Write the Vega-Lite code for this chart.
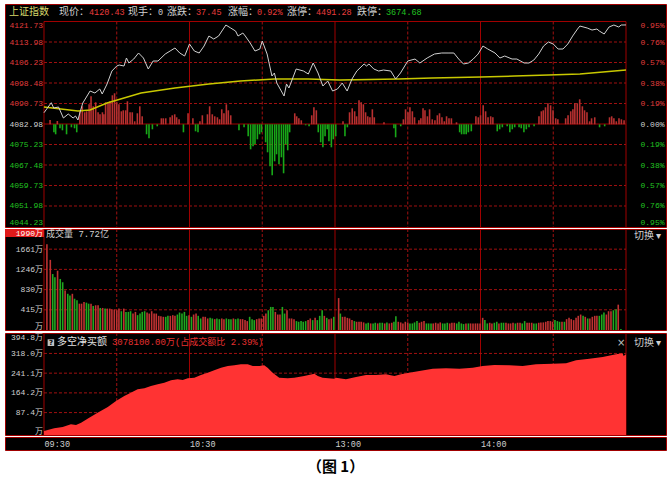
{
  "$schema": "https://vega.github.io/schema/vega-lite/v6.json",
  "background": "white",
  "padding": {"left": 4, "top": 3, "right": 5, "bottom": 0},
  "spacing": 0,
  "config": {
    "view": {"fill": "#000000", "stroke": "#a00000", "strokeWidth": 1},
    "concat": {"spacing": 0}
  },
  "title": {"text": "（图 1）", "orient": "bottom", "anchor": "middle", "offset": 9, "fontSize": 15, "font": "Noto Sans CJK SC", "fontWeight": "bold", "color": "#000000"},
  "datasets": {
    "quote": [{"name": "上证指数", "price": 4120.43, "hand": 0, "change": 37.45, "pct": 0.0092, "upLimit": 4491.28, "downLimit": 3674.68}],
    "price": [
      {"t":0,"p":4087.25},{"t":3,"p":4091.03},{"t":4,"p":4089.03},{"t":6,"p":4089.41},{"t":8,"p":4085.25},{"t":10,"p":4086.76},{"t":12,"p":4085.25},{"t":13,"p":4086.0},{"t":14,"p":4084.49},{"t":15,"p":4087.89},{"t":16,"p":4090.92},{"t":19,"p":4095.45},{"t":21,"p":4094.7},{"t":23,"p":4096.21},{"t":24,"p":4094.32},{"t":26,"p":4098.1},{"t":28,"p":4103.01},{"t":30,"p":4104.9},{"t":31,"p":4105.28},{"t":33,"p":4104.9},{"t":34,"p":4107.93},{"t":35,"p":4106.04},{"t":37,"p":4107.55},{"t":39,"p":4109.82},{"t":41,"p":4107.93},{"t":43,"p":4103.77},{"t":45,"p":4106.79},{"t":47,"p":4106.79},{"t":50,"p":4109.44},{"t":52,"p":4110.57},{"t":54,"p":4111.71},{"t":56,"p":4109.82},{"t":58,"p":4108.68},{"t":60,"p":4113.22},{"t":62,"p":4110.57},{"t":64,"p":4109.82},{"t":66,"p":4112.46},{"t":68,"p":4116.24},{"t":70,"p":4115.11},{"t":72,"p":4116.24},{"t":75,"p":4120.4},{"t":77,"p":4119.27},{"t":79,"p":4118.13},{"t":80,"p":4116.24},{"t":82,"p":4117.38},{"t":83,"p":4116.24},{"t":85,"p":4113.6},{"t":87,"p":4110.57},{"t":89,"p":4111.33},{"t":90,"p":4114.35},{"t":92,"p":4109.44},{"t":94,"p":4101.12},{"t":95,"p":4102.26},{"t":96,"p":4098.48},{"t":99,"p":4093.56},{"t":100,"p":4098.1},{"t":101,"p":4096.59},{"t":104,"p":4103.77},{"t":107,"p":4103.01},{"t":109,"p":4101.88},{"t":111,"p":4106.04},{"t":113,"p":4102.26},{"t":115,"p":4097.34},{"t":117,"p":4099.23},{"t":119,"p":4095.45},{"t":121,"p":4096.21},{"t":123,"p":4098.48},{"t":125,"p":4095.45},{"t":127,"p":4099.99},{"t":129,"p":4103.01},{"t":132,"p":4105.66},{"t":133,"p":4104.9},{"t":134,"p":4105.66},{"t":136,"p":4103.77},{"t":138,"p":4103.01},{"t":140,"p":4103.39},{"t":143,"p":4103.01},{"t":145,"p":4099.99},{"t":147,"p":4102.26},{"t":150,"p":4106.79},{"t":153,"p":4107.55},{"t":155,"p":4106.04},{"t":158,"p":4107.93},{"t":161,"p":4109.44},{"t":164,"p":4109.82},{"t":167,"p":4109.82},{"t":169,"p":4109.82},{"t":171,"p":4107.55},{"t":173,"p":4105.66},{"t":175,"p":4106.04},{"t":177,"p":4107.55},{"t":179,"p":4109.44},{"t":181,"p":4112.46},{"t":183,"p":4111.33},{"t":186,"p":4109.82},{"t":188,"p":4107.93},{"t":190,"p":4108.68},{"t":193,"p":4107.55},{"t":195,"p":4107.55},{"t":198,"p":4106.04},{"t":200,"p":4106.04},{"t":202,"p":4107.17},{"t":204,"p":4109.44},{"t":206,"p":4112.46},{"t":208,"p":4113.98},{"t":210,"p":4113.22},{"t":212,"p":4111.33},{"t":214,"p":4111.33},{"t":216,"p":4113.22},{"t":218,"p":4116.24},{"t":220,"p":4118.89},{"t":221,"p":4120.02},{"t":224,"p":4119.27},{"t":226,"p":4118.51},{"t":228,"p":4118.89},{"t":229,"p":4118.13},{"t":231,"p":4117.0},{"t":233,"p":4119.65},{"t":235,"p":4120.4},{"t":237,"p":4119.65},{"t":238,"p":4120.4},{"t":240,"p":4120.43}
    ],
    "avg": [
      {"t":0,"a":4089.41},{"t":7,"a":4088.65},{"t":14,"a":4087.89},{"t":19,"a":4088.27},{"t":26,"a":4090.92},{"t":40,"a":4094.7},{"t":54,"a":4096.59},{"t":68,"a":4098.1},{"t":81,"a":4099.23},{"t":95,"a":4099.99},{"t":109,"a":4099.99},{"t":122,"a":4099.61},{"t":146,"a":4099.99},{"t":160,"a":4100.37},{"t":180,"a":4100.75},{"t":194,"a":4101.12},{"t":208,"a":4101.5},{"t":221,"a":4101.88},{"t":240,"a":4103.39}
    ],
    "strength": [
      {"t":2.5,"s":4.3},{"t":4.1,"s":-8},{"t":4.8,"s":-10},{"t":5.5,"s":3.3},{"t":6.6,"s":-4},{"t":7.6,"s":-6},{"t":9.3,"s":-10},{"t":11.3,"s":-3},{"t":12.6,"s":-4},{"t":13.5,"s":-8},{"t":14.8,"s":13},{"t":15.8,"s":18},{"t":16.8,"s":12},{"t":17.6,"s":13},{"t":18.6,"s":20},{"t":19.4,"s":28},{"t":20.3,"s":18},{"t":21.3,"s":22},{"t":22.3,"s":12},{"t":23.1,"s":10},{"t":24.1,"s":12},{"t":24.7,"s":10},{"t":25.4,"s":22},{"t":26.4,"s":22},{"t":27.2,"s":23},{"t":28.2,"s":29},{"t":29.1,"s":31},{"t":30,"s":22},{"t":30.9,"s":20},{"t":31.9,"s":13},{"t":32.7,"s":14},{"t":33.7,"s":14},{"t":34.4,"s":23},{"t":35.5,"s":12},{"t":36.4,"s":12},{"t":37.4,"s":3},{"t":38.5,"s":11},{"t":39.5,"s":18},{"t":40.5,"s":8},{"t":42.3,"s":-10},{"t":43.3,"s":-14},{"t":44.7,"s":-5},{"t":46.7,"s":-2},{"t":48.4,"s":6},{"t":49.2,"s":6},{"t":50.2,"s":6},{"t":52,"s":7},{"t":52.9,"s":9},{"t":53.9,"s":10},{"t":54.7,"s":7},{"t":55.7,"s":5},{"t":57.5,"s":-8},{"t":59.4,"s":11},{"t":61.4,"s":6},{"t":62.5,"s":-7},{"t":63.5,"s":-8},{"t":64.3,"s":3},{"t":65.3,"s":9},{"t":67.4,"s":10},{"t":68.3,"s":18},{"t":69.4,"s":10},{"t":70.4,"s":8},{"t":71.5,"s":7},{"t":72.4,"s":5},{"t":73.3,"s":15},{"t":74.2,"s":11},{"t":75.2,"s":20},{"t":76,"s":14},{"t":77,"s":9},{"t":80.4,"s":-6},{"t":82.5,"s":-3},{"t":84.2,"s":-12},{"t":85.2,"s":-25},{"t":86.2,"s":-22},{"t":87,"s":-20},{"t":88,"s":-15},{"t":88.9,"s":-10},{"t":89.7,"s":-8},{"t":91.4,"s":-18},{"t":92.2,"s":-28},{"t":93.2,"s":-42},{"t":94.1,"s":-51},{"t":95.1,"s":-37},{"t":95.9,"s":-30},{"t":96.9,"s":-40},{"t":97.9,"s":-33},{"t":98.8,"s":-49},{"t":99.7,"s":-20},{"t":100.5,"s":-26},{"t":101.3,"s":-8},{"t":103.4,"s":11},{"t":104.2,"s":8},{"t":105.1,"s":6},{"t":106.1,"s":4},{"t":107.9,"s":-1},{"t":109.3,"s":-2},{"t":110.4,"s":9},{"t":111.3,"s":17},{"t":112.3,"s":14},{"t":113.1,"s":-8},{"t":114.1,"s":-18},{"t":115,"s":-23},{"t":115.9,"s":-12},{"t":116.8,"s":-5},{"t":117.5,"s":-17},{"t":118.5,"s":-23},{"t":119.3,"s":-15},{"t":120.3,"s":-12},{"t":123.3,"s":3},{"t":124.1,"s":-12},{"t":125.1,"s":-3},{"t":126,"s":12},{"t":127.1,"s":16},{"t":128.1,"s":13},{"t":128.9,"s":8},{"t":129.9,"s":24},{"t":130.8,"s":22},{"t":131.7,"s":20},{"t":132.6,"s":12},{"t":133.5,"s":8},{"t":134.4,"s":7},{"t":135.4,"s":15},{"t":136.2,"s":7},{"t":140.2,"s":2},{"t":144.3,"s":-4},{"t":145,"s":-13},{"t":147.1,"s":-2},{"t":148.2,"s":5},{"t":149.1,"s":15},{"t":150.1,"s":12},{"t":150.9,"s":17},{"t":151.9,"s":13},{"t":152.8,"s":7},{"t":154.6,"s":4},{"t":155.4,"s":6},{"t":156.3,"s":16},{"t":157.1,"s":14},{"t":158.1,"s":8},{"t":159,"s":15},{"t":160.1,"s":5},{"t":161.2,"s":4},{"t":162.2,"s":9},{"t":163.1,"s":11},{"t":164.1,"s":7},{"t":165.1,"s":3},{"t":166,"s":8},{"t":167,"s":6},{"t":168,"s":6},{"t":170.1,"s":2},{"t":171.4,"s":-8},{"t":172.2,"s":-10},{"t":173.2,"s":-10},{"t":174.1,"s":-10},{"t":175,"s":-8},{"t":176.2,"s":-7},{"t":178.1,"s":8},{"t":179.1,"s":7},{"t":180,"s":9},{"t":181.1,"s":19},{"t":182.1,"s":13},{"t":183.1,"s":7},{"t":184.2,"s":8},{"t":185.1,"s":7},{"t":186.9,"s":-7},{"t":187.9,"s":-5},{"t":189,"s":-3},{"t":191,"s":-2},{"t":192.1,"s":-8},{"t":193.1,"s":-5},{"t":194.1,"s":-3},{"t":195.9,"s":-3},{"t":196.8,"s":-4},{"t":197.9,"s":-8},{"t":198.9,"s":-5},{"t":200,"s":-3},{"t":202.1,"s":-2},{"t":204.1,"s":8},{"t":205.1,"s":13},{"t":205.9,"s":14},{"t":206.8,"s":17},{"t":207.8,"s":21},{"t":208.9,"s":19},{"t":209.9,"s":14},{"t":211,"s":6},{"t":211.9,"s":5},{"t":215.1,"s":6},{"t":216.1,"s":9},{"t":217.2,"s":13},{"t":218.1,"s":15},{"t":218.9,"s":21},{"t":219.9,"s":21},{"t":220.9,"s":25},{"t":222,"s":18},{"t":222.9,"s":14},{"t":223.9,"s":12},{"t":225,"s":3},{"t":225.8,"s":6},{"t":227.1,"s":7},{"t":229.1,"s":-3},{"t":231.2,"s":-2},{"t":233.2,"s":7},{"t":234.1,"s":8},{"t":235,"s":6},{"t":236,"s":3},{"t":237.1,"s":6},{"t":238.1,"s":5},{"t":239.2,"s":4}
    ],
    "volume": [
      {"t":1.2,"v":1760,"d":"up"},{"t":2.6,"v":1441,"d":"up"},{"t":3.6,"v":1150,"d":"down"},{"t":4.5,"v":1083,"d":"down"},{"t":5.6,"v":1218,"d":"up"},{"t":6.7,"v":1049,"d":"down"},{"t":7.7,"v":981,"d":"down"},{"t":8.7,"v":812,"d":"up"},{"t":9.8,"v":744,"d":"down"},{"t":10.7,"v":710,"d":"down"},{"t":11.7,"v":744,"d":"up"},{"t":12.6,"v":643,"d":"down"},{"t":13.6,"v":609,"d":"down"},{"t":14.6,"v":541,"d":"up"},{"t":15.5,"v":541,"d":"up"},{"t":16.5,"v":575,"d":"up"},{"t":17.5,"v":562,"d":"down"},{"t":18.4,"v":541,"d":"down"},{"t":19.4,"v":541,"d":"up"},{"t":20.3,"v":494,"d":"down"},{"t":21.3,"v":508,"d":"up"},{"t":22.3,"v":508,"d":"up"},{"t":23.2,"v":453,"d":"down"},{"t":24.2,"v":453,"d":"up"},{"t":25.2,"v":440,"d":"down"},{"t":26.1,"v":440,"d":"up"},{"t":27.1,"v":440,"d":"up"},{"t":28,"v":426,"d":"up"},{"t":29,"v":420,"d":"up"},{"t":30,"v":406,"d":"up"},{"t":30.9,"v":440,"d":"up"},{"t":31.9,"v":386,"d":"down"},{"t":32.9,"v":440,"d":"up"},{"t":33.8,"v":372,"d":"down"},{"t":34.8,"v":372,"d":"down"},{"t":35.7,"v":386,"d":"down"},{"t":36.7,"v":338,"d":"up"},{"t":37.7,"v":372,"d":"up"},{"t":38.6,"v":305,"d":"down"},{"t":39.6,"v":338,"d":"down"},{"t":40.5,"v":372,"d":"down"},{"t":41.5,"v":386,"d":"down"},{"t":42.5,"v":359,"d":"up"},{"t":43.4,"v":338,"d":"up"},{"t":44.4,"v":386,"d":"up"},{"t":45.4,"v":338,"d":"up"},{"t":46.3,"v":338,"d":"up"},{"t":47.3,"v":291,"d":"up"},{"t":48.2,"v":284,"d":"up"},{"t":49.2,"v":271,"d":"up"},{"t":50.2,"v":271,"d":"down"},{"t":51.1,"v":291,"d":"down"},{"t":52.1,"v":291,"d":"up"},{"t":53.1,"v":305,"d":"up"},{"t":54,"v":291,"d":"up"},{"t":55,"v":318,"d":"down"},{"t":55.9,"v":359,"d":"down"},{"t":56.9,"v":338,"d":"down"},{"t":57.9,"v":372,"d":"down"},{"t":58.8,"v":291,"d":"down"},{"t":59.8,"v":305,"d":"up"},{"t":60.8,"v":271,"d":"down"},{"t":61.7,"v":318,"d":"up"},{"t":62.7,"v":338,"d":"up"},{"t":63.6,"v":291,"d":"down"},{"t":64.6,"v":237,"d":"down"},{"t":65.6,"v":271,"d":"up"},{"t":66.5,"v":271,"d":"up"},{"t":67.5,"v":237,"d":"up"},{"t":68.5,"v":250,"d":"down"},{"t":69.4,"v":237,"d":"down"},{"t":70.4,"v":223,"d":"up"},{"t":71.3,"v":237,"d":"down"},{"t":72.3,"v":223,"d":"down"},{"t":73.3,"v":237,"d":"up"},{"t":74.2,"v":223,"d":"up"},{"t":75.2,"v":237,"d":"down"},{"t":76.2,"v":223,"d":"down"},{"t":77.1,"v":223,"d":"down"},{"t":78.1,"v":237,"d":"up"},{"t":79,"v":223,"d":"down"},{"t":80,"v":237,"d":"down"},{"t":81,"v":223,"d":"up"},{"t":81.9,"v":223,"d":"up"},{"t":82.9,"v":203,"d":"up"},{"t":83.8,"v":183,"d":"up"},{"t":84.8,"v":271,"d":"down"},{"t":85.8,"v":223,"d":"down"},{"t":86.7,"v":203,"d":"down"},{"t":87.7,"v":223,"d":"up"},{"t":88.7,"v":237,"d":"up"},{"t":89.6,"v":237,"d":"up"},{"t":90.6,"v":291,"d":"up"},{"t":91.5,"v":338,"d":"up"},{"t":92.5,"v":406,"d":"down"},{"t":93.5,"v":474,"d":"down"},{"t":94.4,"v":474,"d":"down"},{"t":95.4,"v":372,"d":"up"},{"t":96.4,"v":318,"d":"up"},{"t":97.3,"v":318,"d":"up"},{"t":98.3,"v":474,"d":"down"},{"t":99.2,"v":338,"d":"down"},{"t":100.2,"v":406,"d":"up"},{"t":101.2,"v":237,"d":"up"},{"t":102.1,"v":237,"d":"up"},{"t":103.1,"v":223,"d":"up"},{"t":104.1,"v":183,"d":"down"},{"t":105,"v":169,"d":"down"},{"t":106,"v":183,"d":"down"},{"t":106.9,"v":169,"d":"down"},{"t":107.9,"v":183,"d":"down"},{"t":108.9,"v":203,"d":"up"},{"t":109.8,"v":237,"d":"up"},{"t":110.8,"v":203,"d":"down"},{"t":111.8,"v":250,"d":"up"},{"t":112.7,"v":203,"d":"down"},{"t":113.7,"v":291,"d":"down"},{"t":114.7,"v":406,"d":"down"},{"t":115.6,"v":291,"d":"up"},{"t":116.6,"v":250,"d":"down"},{"t":117.5,"v":223,"d":"up"},{"t":118.5,"v":237,"d":"up"},{"t":119.5,"v":271,"d":"down"},
      {"t":121.5,"v":656,"d":"up"},{"t":122.2,"v":338,"d":"down"},{"t":123.1,"v":271,"d":"up"},{"t":124.1,"v":271,"d":"up"},{"t":125.1,"v":250,"d":"up"},{"t":126,"v":237,"d":"up"},{"t":127,"v":203,"d":"up"},{"t":128,"v":183,"d":"down"},{"t":128.9,"v":169,"d":"up"},{"t":129.9,"v":169,"d":"up"},{"t":130.8,"v":169,"d":"up"},{"t":131.8,"v":156,"d":"up"},{"t":132.8,"v":135,"d":"down"},{"t":133.7,"v":149,"d":"down"},{"t":134.7,"v":135,"d":"up"},{"t":135.7,"v":135,"d":"down"},{"t":136.6,"v":149,"d":"down"},{"t":137.6,"v":135,"d":"up"},{"t":138.5,"v":149,"d":"down"},{"t":139.5,"v":149,"d":"down"},{"t":140.5,"v":135,"d":"up"},{"t":141.4,"v":156,"d":"down"},{"t":142.4,"v":135,"d":"up"},{"t":143.4,"v":149,"d":"up"},{"t":144.3,"v":169,"d":"down"},{"t":145.1,"v":284,"d":"down"},{"t":146.1,"v":169,"d":"up"},{"t":147.1,"v":156,"d":"up"},{"t":148,"v":135,"d":"up"},{"t":149,"v":169,"d":"up"},{"t":150,"v":156,"d":"up"},{"t":150.9,"v":135,"d":"down"},{"t":151.9,"v":135,"d":"down"},{"t":152.8,"v":156,"d":"down"},{"t":153.8,"v":183,"d":"down"},{"t":154.8,"v":149,"d":"up"},{"t":155.7,"v":169,"d":"up"},{"t":156.7,"v":183,"d":"up"},{"t":157.7,"v":135,"d":"down"},{"t":158.6,"v":135,"d":"down"},{"t":159.6,"v":135,"d":"down"},{"t":160.5,"v":135,"d":"up"},{"t":161.5,"v":149,"d":"up"},{"t":162.5,"v":135,"d":"up"},{"t":163.4,"v":156,"d":"up"},{"t":164.4,"v":135,"d":"down"},{"t":165.3,"v":135,"d":"down"},{"t":166.3,"v":149,"d":"down"},{"t":167.3,"v":135,"d":"up"},{"t":168.2,"v":149,"d":"up"},{"t":169.2,"v":149,"d":"up"},{"t":170.2,"v":135,"d":"down"},{"t":171.1,"v":169,"d":"down"},{"t":172.1,"v":135,"d":"down"},{"t":173,"v":122,"d":"down"},{"t":174,"v":135,"d":"up"},{"t":175,"v":135,"d":"down"},{"t":175.9,"v":135,"d":"up"},{"t":176.9,"v":135,"d":"up"},{"t":177.9,"v":135,"d":"up"},{"t":178.8,"v":135,"d":"up"},{"t":179.8,"v":135,"d":"up"},{"t":180.9,"v":250,"d":"up"},{"t":181.8,"v":203,"d":"down"},{"t":182.8,"v":135,"d":"down"},{"t":183.8,"v":149,"d":"up"},{"t":184.7,"v":135,"d":"up"},{"t":185.7,"v":149,"d":"down"},{"t":186.7,"v":169,"d":"down"},{"t":187.6,"v":135,"d":"up"},{"t":188.6,"v":149,"d":"down"},{"t":189.5,"v":149,"d":"down"},{"t":190.5,"v":149,"d":"up"},{"t":191.5,"v":135,"d":"up"},{"t":192.4,"v":135,"d":"up"},{"t":193.4,"v":149,"d":"up"},{"t":194.4,"v":135,"d":"down"},{"t":195.3,"v":149,"d":"up"},{"t":196.3,"v":149,"d":"up"},{"t":197.2,"v":135,"d":"down"},{"t":198.2,"v":183,"d":"down"},{"t":199.2,"v":149,"d":"up"},{"t":200.1,"v":149,"d":"up"},{"t":201.1,"v":149,"d":"up"},{"t":202,"v":135,"d":"down"},{"t":203,"v":135,"d":"down"},{"t":204,"v":149,"d":"up"},{"t":204.9,"v":156,"d":"up"},{"t":205.9,"v":156,"d":"up"},{"t":206.9,"v":169,"d":"up"},{"t":207.8,"v":183,"d":"up"},{"t":208.8,"v":183,"d":"up"},{"t":209.7,"v":169,"d":"up"},{"t":210.7,"v":203,"d":"down"},{"t":211.7,"v":183,"d":"down"},{"t":212.6,"v":169,"d":"down"},{"t":213.6,"v":169,"d":"up"},{"t":214.6,"v":169,"d":"down"},{"t":215.5,"v":223,"d":"up"},{"t":216.5,"v":250,"d":"up"},{"t":217.4,"v":223,"d":"up"},{"t":218.4,"v":203,"d":"up"},{"t":219.4,"v":250,"d":"up"},{"t":220.3,"v":291,"d":"up"},{"t":221.3,"v":318,"d":"up"},{"t":222.3,"v":291,"d":"down"},{"t":223.2,"v":271,"d":"up"},{"t":224.2,"v":237,"d":"down"},{"t":225.1,"v":237,"d":"up"},{"t":226.1,"v":271,"d":"up"},{"t":227.1,"v":291,"d":"up"},{"t":228,"v":291,"d":"up"},{"t":229,"v":291,"d":"down"},{"t":230,"v":318,"d":"down"},{"t":230.9,"v":359,"d":"down"},{"t":231.9,"v":318,"d":"up"},{"t":232.8,"v":386,"d":"up"},{"t":233.8,"v":386,"d":"up"},{"t":234.8,"v":406,"d":"down"},{"t":235.9,"v":426,"d":"down"},{"t":236.8,"v":521,"d":"up"},{"t":237.9,"v":20,"d":"down"}
    ],
    "netbuy": [
      {"t":0,"n":15.6},{"t":4.2,"n":26.1},{"t":7.7,"n":31.2},{"t":11.1,"n":41.7},{"t":13.2,"n":39.0},{"t":15.3,"n":48.0},{"t":18.3,"n":65.1},{"t":22.1,"n":86.9},{"t":26.3,"n":109.2},{"t":29.7,"n":132.6},{"t":33.1,"n":152.1},{"t":36.6,"n":168.8},{"t":38.6,"n":178.2},{"t":41.4,"n":182.1},{"t":44.1,"n":191.1},{"t":46.9,"n":197.7},{"t":49.6,"n":203.9},{"t":52.4,"n":213.3},{"t":55.1,"n":217.2},{"t":57.2,"n":214.4},{"t":59.3,"n":221.1},{"t":62,"n":223.4},{"t":64.7,"n":233.9},{"t":67.5,"n":242.9},{"t":70.2,"n":252.3},{"t":73,"n":262.4},{"t":75.8,"n":269.0},{"t":78.5,"n":271.8},{"t":81.2,"n":275.7},{"t":84,"n":275.7},{"t":86.1,"n":269.0},{"t":88.8,"n":269.0},{"t":90.8,"n":271.8},{"t":92.2,"n":262.4},{"t":94.3,"n":242.9},{"t":97,"n":223.4},{"t":100.5,"n":221.1},{"t":103.2,"n":223.4},{"t":107.3,"n":230.0},{"t":111.5,"n":239.0},{"t":112.9,"n":230.0},{"t":114.9,"n":223.4},{"t":119.7,"n":219.5},{"t":120.4,"n":223.4},{"t":124.5,"n":217.2},{"t":128.7,"n":226.1},{"t":132.8,"n":233.9},{"t":136.9,"n":233.9},{"t":141,"n":236.7},{"t":144.5,"n":230.0},{"t":147.2,"n":236.7},{"t":150.6,"n":242.9},{"t":154.8,"n":249.5},{"t":160.3,"n":258.5},{"t":165.8,"n":260.1},{"t":171.3,"n":258.5},{"t":176.8,"n":262.4},{"t":180.9,"n":269.0},{"t":185.7,"n":272.9},{"t":191.9,"n":271.8},{"t":197.4,"n":269.0},{"t":202.9,"n":275.7},{"t":209.8,"n":278.0},{"t":215.3,"n":279.6},{"t":219.4,"n":291.3},{"t":224.9,"n":297.5},{"t":230.4,"n":304.1},{"t":235.9,"n":314.6},{"t":238.6,"n":318.5},{"t":239,"n":308.0},{"t":240,"n":314.6}
    ]
  },
  "vconcat": [
    {
      "width": 661,
      "height": 223,
      "layer": [
        {
          "layer": [
            {
              "data": {"values": [{"g":4113.98},{"g":4106.23},{"g":4098.48},{"g":4090.73},{"g":4075.23},{"g":4067.48},{"g":4059.73},{"g":4051.98}]},
              "mark": {"type": "rule", "color": "#a01010", "strokeDash": [3, 2], "strokeWidth": 1},
              "encoding": {
                "x": {"datum": 0, "type": "quantitative", "scale": {"domain": [-16.08, 256.49], "nice": false, "zero": false}, "axis": null},
                "x2": {"datum": 240},
                "y": {"field": "g", "type": "quantitative", "scale": {"domain": [4044.04, 4128.35], "nice": false, "zero": false}, "axis": null}
              }
            },
            {
              "data": {"values": [{"m":30},{"m":90},{"m":150},{"m":210}]},
              "mark": {"type": "rule", "color": "#a01010", "strokeDash": [3, 2], "strokeWidth": 1},
              "encoding": {
                "x": {"field": "m", "type": "quantitative", "scale": {"domain": [-16.08, 256.49], "nice": false, "zero": false}, "axis": null},
                "y": {"datum": 4121.73, "type": "quantitative", "scale": {"domain": [4044.04, 4128.35], "nice": false, "zero": false}, "axis": null},
                "y2": {"datum": 4044.04}
              }
            },
            {
              "data": {"values": [{"m":0},{"m":60},{"m":120},{"m":180},{"m":240}]},
              "mark": {"type": "rule", "color": "#a00000", "strokeWidth": 1},
              "encoding": {
                "x": {"field": "m", "type": "quantitative", "scale": {"domain": [-16.08, 256.49], "nice": false, "zero": false}, "axis": null},
                "y": {"datum": 4121.73, "type": "quantitative", "scale": {"domain": [4044.04, 4128.35], "nice": false, "zero": false}, "axis": null},
                "y2": {"datum": 4044.04}
              }
            },
            {
              "data": {"values": [{"g":4121.73},{"g":4082.98}]},
              "mark": {"type": "rule", "color": "#a00000", "strokeWidth": 1},
              "encoding": {
                "x": {"datum": 0, "type": "quantitative", "scale": {"domain": [-16.08, 256.49], "nice": false, "zero": false}, "axis": null},
                "x2": {"datum": 240},
                "y": {"field": "g", "type": "quantitative", "scale": {"domain": [4044.04, 4128.35], "nice": false, "zero": false}, "axis": null}
              }
            }
          ]
        },
        {
          "data": {"name": "strength"},
          "mark": {"type": "rule", "strokeWidth": 1.6},
          "encoding": {
            "x": {"field": "t", "type": "quantitative", "scale": {"domain": [-16.08, 256.49], "nice": false, "zero": false}, "axis": null},
            "y": {"field": "s", "type": "quantitative", "scale": {"domain": [-102.7, 120.3], "nice": false, "zero": false}, "axis": null},
            "y2": {"datum": 0},
            "color": {"condition": {"test": "datum.s > 0", "value": "#b83030"}, "value": "#18a818"}
          }
        },
        {
          "layer": [
            {
              "data": {"name": "avg"},
              "mark": {"type": "line", "color": "#c8c800", "strokeWidth": 1.5},
              "encoding": {
                "x": {"field": "t", "type": "quantitative", "scale": {"domain": [-16.08, 256.49], "nice": false, "zero": false}, "axis": null},
                "y": {"field": "a", "type": "quantitative", "scale": {"domain": [4044.04, 4128.35], "nice": false, "zero": false},
                  "axis": {"orient": "right", "values": [4121.73,4113.98,4106.23,4098.48,4090.73,4082.98,4075.23,4067.48,4059.73,4051.98,4044.23],
                    "labelExpr": "format(abs(datum.value-4082.98)/4082.98*100,'.2f')+'%'",
                    "title": null, "domain": false, "ticks": false, "tickSize": 0, "grid": false, "labelPadding": -2, "labelAlign": "right",
                    "labelFont": "Liberation Mono", "labelFontSize": 8, "labelOverlap": false, "labelBound": false, "labelFlush": false, "zindex": 1,
                    "labelColor": {"condition": [{"test": "datum.value > 4083.5", "value": "#e03c3c"}, {"test": "datum.value < 4082.5", "value": "#20c020"}], "value": "#d0d0d0"},
                    "labelBaseline": {"condition": [{"test": "datum.value > 4121", "value": "top"}, {"test": "datum.value < 4045", "value": "bottom"}], "value": "middle"}
                  }
                }
              }
            },
            {
              "data": {"name": "price"},
              "mark": {"type": "line", "color": "#d0d0d0", "strokeWidth": 1},
              "encoding": {
                "x": {"field": "t", "type": "quantitative", "scale": {"domain": [-16.08, 256.49], "nice": false, "zero": false}, "axis": null},
                "y": {"field": "p", "type": "quantitative", "scale": {"domain": [4044.04, 4128.35], "nice": false, "zero": false},
                  "axis": {"orient": "left", "values": [4121.73,4113.98,4106.23,4098.48,4090.73,4082.98,4075.23,4067.48,4059.73,4051.98,4044.23],
                    "labelExpr": "format(datum.value,'.2f')",
                    "title": null, "domain": false, "ticks": false, "tickSize": 0, "grid": false, "labelPadding": -37.5, "labelAlign": "right",
                    "labelFont": "Liberation Mono", "labelFontSize": 8, "labelOverlap": false, "labelBound": false, "labelFlush": false, "zindex": 1,
                    "labelColor": {"condition": [{"test": "datum.value > 4083.5", "value": "#e03c3c"}, {"test": "datum.value < 4082.5", "value": "#20c020"}], "value": "#d0d0d0"},
                    "labelBaseline": {"condition": [{"test": "datum.value > 4121", "value": "top"}, {"test": "datum.value < 4045", "value": "bottom"}], "value": "middle"}
                  }
                }
              }
            },
            {
              "data": {"name": "quote"},
              "mark": {"type": "text", "align": "left", "baseline": "middle", "font": "Noto Sans CJK SC", "fontSize": 10, "color": "#d8d86c"},
              "encoding": {
                "x": {"datum": -14.43, "type": "quantitative", "scale": {"domain": [-16.08, 256.49], "nice": false, "zero": false}, "axis": null},
                "y": {"datum": 4125.33, "type": "quantitative", "scale": {"domain": [4044.04, 4128.35], "nice": false, "zero": false}, "axis": null},
                "text": {"field": "name"}
              }
            },
            {
              "data": {"name": "quote"},
              "mark": {"type": "text", "align": "left", "baseline": "middle", "font": "Noto Sans CJK SC", "fontSize": 10, "color": "#d0d0d0"},
              "encoding": {
                "x": {"datum": 6.19, "type": "quantitative", "scale": {"domain": [-16.08, 256.49], "nice": false, "zero": false}, "axis": null},
                "y": {"datum": 4125.33, "type": "quantitative", "scale": {"domain": [4044.04, 4128.35], "nice": false, "zero": false}, "axis": null},
                "text": {"value": "现价："}
              }
            },
            {
              "data": {"name": "quote"},
              "mark": {"type": "text", "align": "left", "baseline": "middle", "font": "Liberation Mono", "fontSize": 8.5, "color": "#e83c3c"},
              "encoding": {
                "x": {"datum": 18.56, "type": "quantitative", "scale": {"domain": [-16.08, 256.49], "nice": false, "zero": false}, "axis": null},
                "y": {"datum": 4125.33, "type": "quantitative", "scale": {"domain": [4044.04, 4128.35], "nice": false, "zero": false}, "axis": null},
                "text": {"field": "price", "format": ".2f"}
              }
            },
            {
              "data": {"name": "quote"},
              "mark": {"type": "text", "align": "left", "baseline": "middle", "font": "Noto Sans CJK SC", "fontSize": 10, "color": "#d0d0d0"},
              "encoding": {
                "x": {"datum": 34.64, "type": "quantitative", "scale": {"domain": [-16.08, 256.49], "nice": false, "zero": false}, "axis": null},
                "y": {"datum": 4125.33, "type": "quantitative", "scale": {"domain": [4044.04, 4128.35], "nice": false, "zero": false}, "axis": null},
                "text": {"value": "现手："}
              }
            },
            {
              "data": {"name": "quote"},
              "mark": {"type": "text", "align": "left", "baseline": "middle", "font": "Liberation Mono", "fontSize": 8.5, "color": "#d0d0d0"},
              "encoding": {
                "x": {"datum": 47.0, "type": "quantitative", "scale": {"domain": [-16.08, 256.49], "nice": false, "zero": false}, "axis": null},
                "y": {"datum": 4125.33, "type": "quantitative", "scale": {"domain": [4044.04, 4128.35], "nice": false, "zero": false}, "axis": null},
                "text": {"field": "hand"}
              }
            },
            {
              "data": {"name": "quote"},
              "mark": {"type": "text", "align": "left", "baseline": "middle", "font": "Noto Sans CJK SC", "fontSize": 10, "color": "#d0d0d0"},
              "encoding": {
                "x": {"datum": 50.72, "type": "quantitative", "scale": {"domain": [-16.08, 256.49], "nice": false, "zero": false}, "axis": null},
                "y": {"datum": 4125.33, "type": "quantitative", "scale": {"domain": [4044.04, 4128.35], "nice": false, "zero": false}, "axis": null},
                "text": {"value": "涨跌："}
              }
            },
            {
              "data": {"name": "quote"},
              "mark": {"type": "text", "align": "left", "baseline": "middle", "font": "Liberation Mono", "fontSize": 8.5, "color": "#e83c3c"},
              "encoding": {
                "x": {"datum": 62.68, "type": "quantitative", "scale": {"domain": [-16.08, 256.49], "nice": false, "zero": false}, "axis": null},
                "y": {"datum": 4125.33, "type": "quantitative", "scale": {"domain": [4044.04, 4128.35], "nice": false, "zero": false}, "axis": null},
                "text": {"field": "change", "format": ".2f"}
              }
            },
            {
              "data": {"name": "quote"},
              "mark": {"type": "text", "align": "left", "baseline": "middle", "font": "Noto Sans CJK SC", "fontSize": 10, "color": "#d0d0d0"},
              "encoding": {
                "x": {"datum": 75.88, "type": "quantitative", "scale": {"domain": [-16.08, 256.49], "nice": false, "zero": false}, "axis": null},
                "y": {"datum": 4125.33, "type": "quantitative", "scale": {"domain": [4044.04, 4128.35], "nice": false, "zero": false}, "axis": null},
                "text": {"value": "涨幅："}
              }
            },
            {
              "data": {"name": "quote"},
              "mark": {"type": "text", "align": "left", "baseline": "middle", "font": "Liberation Mono", "fontSize": 8.5, "color": "#e83c3c"},
              "encoding": {
                "x": {"datum": 87.84, "type": "quantitative", "scale": {"domain": [-16.08, 256.49], "nice": false, "zero": false}, "axis": null},
                "y": {"datum": 4125.33, "type": "quantitative", "scale": {"domain": [4044.04, 4128.35], "nice": false, "zero": false}, "axis": null},
                "text": {"field": "pct", "format": ".2%"}
              }
            },
            {
              "data": {"name": "quote"},
              "mark": {"type": "text", "align": "left", "baseline": "middle", "font": "Noto Sans CJK SC", "fontSize": 10, "color": "#d0d0d0"},
              "encoding": {
                "x": {"datum": 100.21, "type": "quantitative", "scale": {"domain": [-16.08, 256.49], "nice": false, "zero": false}, "axis": null},
                "y": {"datum": 4125.33, "type": "quantitative", "scale": {"domain": [4044.04, 4128.35], "nice": false, "zero": false}, "axis": null},
                "text": {"value": "涨停："}
              }
            },
            {
              "data": {"name": "quote"},
              "mark": {"type": "text", "align": "left", "baseline": "middle", "font": "Liberation Mono", "fontSize": 8.5, "color": "#e83c3c"},
              "encoding": {
                "x": {"datum": 112.16, "type": "quantitative", "scale": {"domain": [-16.08, 256.49], "nice": false, "zero": false}, "axis": null},
                "y": {"datum": 4125.33, "type": "quantitative", "scale": {"domain": [4044.04, 4128.35], "nice": false, "zero": false}, "axis": null},
                "text": {"field": "upLimit", "format": ".2f"}
              }
            },
            {
              "data": {"name": "quote"},
              "mark": {"type": "text", "align": "left", "baseline": "middle", "font": "Noto Sans CJK SC", "fontSize": 10, "color": "#d0d0d0"},
              "encoding": {
                "x": {"datum": 129.07, "type": "quantitative", "scale": {"domain": [-16.08, 256.49], "nice": false, "zero": false}, "axis": null},
                "y": {"datum": 4125.33, "type": "quantitative", "scale": {"domain": [4044.04, 4128.35], "nice": false, "zero": false}, "axis": null},
                "text": {"value": "跌停："}
              }
            },
            {
              "data": {"name": "quote"},
              "mark": {"type": "text", "align": "left", "baseline": "middle", "font": "Liberation Mono", "fontSize": 8.5, "color": "#20c020"},
              "encoding": {
                "x": {"datum": 141.03, "type": "quantitative", "scale": {"domain": [-16.08, 256.49], "nice": false, "zero": false}, "axis": null},
                "y": {"datum": 4125.33, "type": "quantitative", "scale": {"domain": [4044.04, 4128.35], "nice": false, "zero": false}, "axis": null},
                "text": {"field": "downLimit", "format": ".2f"}
              }
            }
          ],
          "resolve": {"axis": {"y": "independent"}}
        }
      ],
      "resolve": {"scale": {"y": "independent"}}
    },
    {
      "width": 661,
      "height": 101,
      "layer": [
        {
          "data": {"values": [{"m":30},{"m":90},{"m":150},{"m":210}]},
          "mark": {"type": "rule", "color": "#a01010", "strokeDash": [3, 2], "strokeWidth": 1},
          "encoding": {"x": {"field": "m", "type": "quantitative", "scale": {"domain": [-16.08, 256.49], "nice": false, "zero": false}, "axis": null}}
        },
        {
          "data": {"values": [{"m":0},{"m":60},{"m":120},{"m":180},{"m":240}]},
          "mark": {"type": "rule", "color": "#a00000", "strokeWidth": 1},
          "encoding": {"x": {"field": "m", "type": "quantitative", "scale": {"domain": [-16.08, 256.49], "nice": false, "zero": false}, "axis": null}}
        },
        {
          "data": {"values": [{"g":415},{"g":830},{"g":1246},{"g":1661}]},
          "mark": {"type": "rule", "color": "#a01010", "strokeDash": [3, 2], "strokeWidth": 1},
          "encoding": {
            "x": {"datum": 0, "type": "quantitative", "scale": {"domain": [-16.08, 256.49], "nice": false, "zero": false}, "axis": null},
            "x2": {"datum": 240},
            "y": {"field": "g", "type": "quantitative", "scale": {"domain": [0, 2075.5], "nice": false, "zero": false}, "axis": null}
          }
        },
        {
          "data": {"values": [{}]},
          "mark": {"type": "rect", "color": "#e01a1a"},
          "encoding": {
            "x": {"datum": -16.08, "type": "quantitative", "scale": {"domain": [-16.08, 256.49], "nice": false, "zero": false}, "axis": null},
            "x2": {"datum": 0},
            "y": {"datum": 2075.5, "type": "quantitative", "scale": {"domain": [0, 2075.5], "nice": false, "zero": false}, "axis": null},
            "y2": {"datum": 1911}
          }
        },
        {
          "data": {"name": "volume"},
          "mark": {"type": "rule", "strokeWidth": 1.6},
          "encoding": {
            "x": {"field": "t", "type": "quantitative", "scale": {"domain": [-16.08, 256.49], "nice": false, "zero": false}, "axis": null},
            "y": {"field": "v", "type": "quantitative", "scale": {"domain": [0, 2075.5], "nice": false, "zero": false},
              "axis": {"orient": "left", "values": [1990, 1661, 1246, 830, 415, 0],
                "labelExpr": "datum.value == 0 ? '万' : datum.value + '万'",
                "title": null, "domain": false, "ticks": false, "tickSize": 0, "grid": false, "labelPadding": -37.5, "labelAlign": "right",
                "labelFont": "Liberation Mono, Noto Sans CJK SC", "labelFontSize": 8, "labelOverlap": false, "labelBound": false, "labelFlush": false, "zindex": 1,
                "labelColor": {"condition": {"test": "datum.value > 1900", "value": "#ffffff"}, "value": "#d0d0d0"},
                "labelBaseline": {"condition": {"test": "datum.value < 1", "value": "bottom"}, "value": "middle"}
              }
            },
            "y2": {"datum": 0},
            "color": {"field": "d", "type": "nominal", "scale": {"domain": ["up", "down"], "range": ["#c03232", "#20a820"]}, "legend": null}
          }
        },
        {
          "data": {"values": [{}]},
          "mark": {"type": "text", "align": "left", "baseline": "middle", "font": "Liberation Mono, Noto Sans CJK SC", "fontSize": 9, "color": "#d0d0d0"},
          "encoding": {
            "x": {"datum": 0.82, "type": "quantitative", "scale": {"domain": [-16.08, 256.49], "nice": false, "zero": false}, "axis": null},
            "y": {"datum": 1972.8, "type": "quantitative", "scale": {"domain": [0, 2075.5], "nice": false, "zero": false}, "axis": null},
            "text": {"value": "成交量 7.72亿"}
          }
        },
        {
          "data": {"values": [{}]},
          "mark": {"type": "text", "align": "left", "baseline": "middle", "font": "Noto Sans CJK SC", "fontSize": 10, "color": "#d0d0d0"},
          "encoding": {
            "x": {"datum": 243.3, "type": "quantitative", "scale": {"domain": [-16.08, 256.49], "nice": false, "zero": false}, "axis": null},
            "y": {"datum": 1931.6, "type": "quantitative", "scale": {"domain": [0, 2075.5], "nice": false, "zero": false}, "axis": null},
            "text": {"value": "切换 ▾"}
          }
        }
      ],
      "resolve": {"axis": {"y": "independent"}}
    },
    {
      "width": 661,
      "height": 102,
      "layer": [
        {
          "data": {"values": [{"m":30},{"m":90},{"m":150},{"m":210}]},
          "mark": {"type": "rule", "color": "#a01010", "strokeDash": [3, 2], "strokeWidth": 1},
          "encoding": {"x": {"field": "m", "type": "quantitative", "scale": {"domain": [-16.08, 256.49], "nice": false, "zero": false}, "axis": null}}
        },
        {
          "data": {"values": [{"m":0},{"m":60},{"m":120},{"m":180},{"m":240}]},
          "mark": {"type": "rule", "color": "#a00000", "strokeWidth": 1},
          "encoding": {"x": {"field": "m", "type": "quantitative", "scale": {"domain": [-16.08, 256.49], "nice": false, "zero": false}, "axis": null}}
        },
        {
          "data": {"values": [{"g":318.0},{"g":241.1},{"g":164.2},{"g":87.4}]},
          "mark": {"type": "rule", "color": "#a01010", "strokeDash": [3, 2], "strokeWidth": 1},
          "encoding": {
            "x": {"datum": 0, "type": "quantitative", "scale": {"domain": [-16.08, 256.49], "nice": false, "zero": false}, "axis": null},
            "x2": {"datum": 240},
            "y": {"field": "g", "type": "quantitative", "scale": {"domain": [0, 397.7], "nice": false, "zero": false}, "axis": null}
          }
        },
        {
          "data": {"name": "netbuy"},
          "mark": {"type": "area", "color": "#ff3333", "opacity": 1},
          "encoding": {
            "x": {"field": "t", "type": "quantitative", "scale": {"domain": [-16.08, 256.49], "nice": false, "zero": false}, "axis": null},
            "y": {"field": "n", "type": "quantitative", "scale": {"domain": [0, 397.7], "nice": false, "zero": false},
              "axis": {"orient": "left", "values": [394.8, 318.0, 241.1, 164.2, 87.4, 0],
                "labelExpr": "datum.value == 0 ? '万' : format(datum.value,'.1f') + '万'",
                "title": null, "domain": false, "ticks": false, "tickSize": 0, "grid": false, "labelPadding": -37.5, "labelAlign": "right",
                "labelFont": "Liberation Mono, Noto Sans CJK SC", "labelFontSize": 8, "labelOverlap": false, "labelBound": false, "labelFlush": false, "zindex": 1,
                "labelColor": "#d0d0d0",
                "labelBaseline": {"condition": [{"test": "datum.value > 390", "value": "top"}, {"test": "datum.value < 1", "value": "bottom"}], "value": "middle"}
              }
            }
          }
        },
        {
          "data": {"values": [{}]},
          "mark": {"type": "rect", "color": "#c0c0c0"},
          "encoding": {
            "x": {"datum": 1.5, "type": "quantitative", "scale": {"domain": [-16.08, 256.49], "nice": false, "zero": false}, "axis": null},
            "x2": {"datum": 4.2},
            "y": {"datum": 373.1, "type": "quantitative", "scale": {"domain": [0, 397.7], "nice": false, "zero": false}, "axis": null},
            "y2": {"datum": 347.0}
          }
        },
        {
          "data": {"values": [{}]},
          "mark": {"type": "text", "align": "center", "baseline": "middle", "font": "DejaVu Sans", "fontSize": 7, "fontWeight": "bold", "color": "#000000"},
          "encoding": {
            "x": {"datum": 2.85, "type": "quantitative", "scale": {"domain": [-16.08, 256.49], "nice": false, "zero": false}, "axis": null},
            "y": {"datum": 360.0, "type": "quantitative", "scale": {"domain": [0, 397.7], "nice": false, "zero": false}, "axis": null},
            "text": {"value": "?"}
          }
        },
        {
          "data": {"values": [{}]},
          "mark": {"type": "text", "align": "left", "baseline": "middle", "font": "Noto Sans CJK SC", "fontSize": 10, "color": "#e0e0e0"},
          "encoding": {
            "x": {"datum": 5.36, "type": "quantitative", "scale": {"domain": [-16.08, 256.49], "nice": false, "zero": false}, "axis": null},
            "y": {"datum": 362.6, "type": "quantitative", "scale": {"domain": [0, 397.7], "nice": false, "zero": false}, "axis": null},
            "text": {"value": "多空净买额"}
          }
        },
        {
          "data": {"values": [{}]},
          "mark": {"type": "text", "align": "left", "baseline": "middle", "font": "Liberation Mono, Noto Sans CJK SC", "fontSize": 9, "color": "#e83030"},
          "encoding": {
            "x": {"datum": 28.0, "type": "quantitative", "scale": {"domain": [-16.08, 256.49], "nice": false, "zero": false}, "axis": null},
            "y": {"datum": 362.6, "type": "quantitative", "scale": {"domain": [0, 397.7], "nice": false, "zero": false}, "axis": null},
            "text": {"value": "3078100.00万(占成交额比 2.39%)"}
          }
        },
        {
          "data": {"values": [{}]},
          "mark": {"type": "text", "align": "left", "baseline": "middle", "font": "DejaVu Sans", "fontSize": 10, "color": "#c0c0c0"},
          "encoding": {
            "x": {"datum": 236.3, "type": "quantitative", "scale": {"domain": [-16.08, 256.49], "nice": false, "zero": false}, "axis": null},
            "y": {"datum": 358.7, "type": "quantitative", "scale": {"domain": [0, 397.7], "nice": false, "zero": false}, "axis": null},
            "text": {"value": "×"}
          }
        },
        {
          "data": {"values": [{}]},
          "mark": {"type": "text", "align": "left", "baseline": "middle", "font": "Noto Sans CJK SC", "fontSize": 10, "color": "#d0d0d0"},
          "encoding": {
            "x": {"datum": 243.3, "type": "quantitative", "scale": {"domain": [-16.08, 256.49], "nice": false, "zero": false}, "axis": null},
            "y": {"datum": 358.7, "type": "quantitative", "scale": {"domain": [0, 397.7], "nice": false, "zero": false}, "axis": null},
            "text": {"value": "切换 ▾"}
          }
        }
      ],
      "resolve": {"axis": {"y": "independent"}}
    },
    {
      "width": 661,
      "height": 13,
      "data": {"values": [{"m":0},{"m":60},{"m":120},{"m":180}]},
      "mark": {"type": "point", "opacity": 0},
      "encoding": {
        "x": {"field": "m", "type": "quantitative", "scale": {"domain": [-16.08, 256.49], "nice": false, "zero": false},
          "axis": {"orient": "bottom", "values": [0, 60, 120, 180],
            "labelExpr": "datum.value == 0 ? '09:30' : datum.value == 60 ? '10:30' : datum.value == 120 ? '13:00' : '14:00'",
            "title": null, "domain": false, "ticks": false, "tickSize": 0, "grid": false, "labelPadding": -11, "labelAlign": "left", "labelBaseline": "top",
            "labelFont": "Liberation Mono", "labelFontSize": 8.5, "labelColor": "#d0d0d0", "labelOverlap": false, "labelBound": false, "labelFlush": false}
        }
      }
    }
  ]
}
